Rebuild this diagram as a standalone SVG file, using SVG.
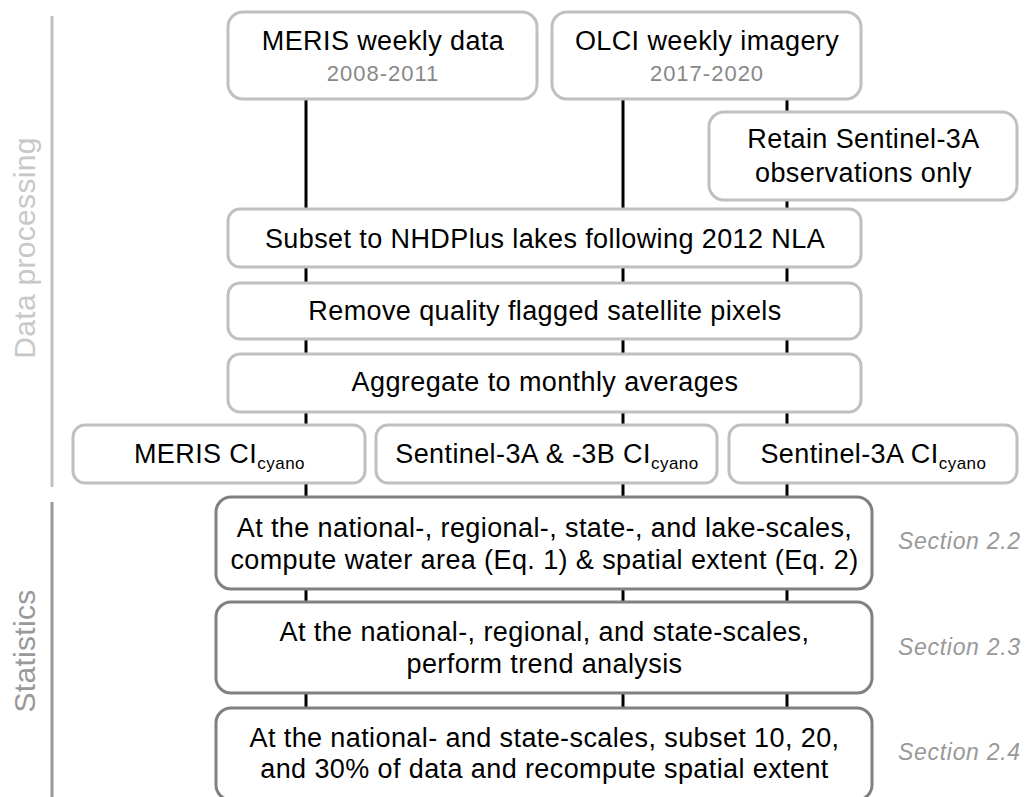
<svg xmlns="http://www.w3.org/2000/svg" width="1026" height="797" viewBox="0 0 1026 797">
<style>
.bx{fill:#fff;stroke:#c0c0c0;stroke-width:3}
.sb{fill:#fff;stroke:#808080;stroke-width:3}
.t{font-family:"Liberation Sans",Arial,sans-serif;font-size:27px;letter-spacing:0.4px;fill:#000;text-anchor:middle}
.yr{font-family:"Liberation Sans",Arial,sans-serif;font-size:22px;letter-spacing:1px;fill:#888;text-anchor:middle}
.sec{font-family:"Liberation Sans",Arial,sans-serif;font-size:23px;letter-spacing:0.7px;font-style:italic;fill:#999}
.side{font-family:"Liberation Sans",Arial,sans-serif;font-size:30px;letter-spacing:0.3px;text-anchor:middle}
.sub{font-size:17px;letter-spacing:0.5px}
.cn{stroke:#000;stroke-width:3;fill:none}
</style>
<rect width="1026" height="797" fill="#fff"/>
<g id="side">
<line x1="52" y1="16" x2="52" y2="487" stroke="#c0c0c0" stroke-width="3"/>
<line x1="52" y1="502" x2="52" y2="797" stroke="#999" stroke-width="3"/>
<text class="side" transform="translate(35,248) rotate(-90)" fill="#c8c8c8">Data processing</text>
<text class="side" transform="translate(35,651) rotate(-90)" fill="#999">Statistics</text>
</g>
<g id="connectors">
<line class="cn" x1="306" y1="99" x2="306" y2="797"/>
<line class="cn" x1="623" y1="99" x2="623" y2="797"/>
<line class="cn" x1="787" y1="99" x2="787" y2="797"/>
</g>
<g id="meris">
<rect class="bx" x="228" y="12" width="309" height="87" rx="15"/>
<text class="t" x="383" y="50">MERIS weekly data</text>
<text class="yr" x="383" y="81">2008-2011</text>
</g>
<g id="olci">
<rect class="bx" x="552" y="12" width="309" height="87" rx="15"/>
<text class="t" x="707" y="50">OLCI weekly imagery</text>
<text class="yr" x="707" y="81">2017-2020</text>
</g>
<g id="retain">
<rect class="bx" x="709" y="112" width="308" height="88" rx="15"/>
<text class="t" x="863.5" y="148">Retain Sentinel-3A</text>
<text class="t" x="863.5" y="182">observations only</text>
</g>
<g id="subset">
<rect class="bx" x="228" y="209" width="633" height="58" rx="12"/>
<text class="t" x="545" y="248">Subset to NHDPlus lakes following 2012 NLA</text>
</g>
<g id="remove">
<rect class="bx" x="228" y="283" width="633" height="56" rx="12"/>
<text class="t" x="545" y="320">Remove quality flagged satellite pixels</text>
</g>
<g id="aggregate">
<rect class="bx" x="228" y="354" width="633" height="58" rx="12"/>
<text class="t" x="545" y="391">Aggregate to monthly averages</text>
</g>
<g id="meris-ci">
<rect class="bx" x="73" y="425" width="292" height="58" rx="12"/>
<text class="t" x="219.5" y="463">MERIS CI<tspan class="sub" dy="6">cyano</tspan></text>
</g>
<g id="s3ab-ci">
<rect class="bx" x="376" y="425" width="341" height="58" rx="12"/>
<text class="t" x="547" y="463">Sentinel-3A &amp; -3B CI<tspan class="sub" dy="6">cyano</tspan></text>
</g>
<g id="s3a-ci">
<rect class="bx" x="729" y="425" width="288" height="58" rx="12"/>
<text class="t" x="873.5" y="463">Sentinel-3A CI<tspan class="sub" dy="6">cyano</tspan></text>
</g>
<g id="stat1">
<rect class="sb" x="216" y="497" width="656" height="92" rx="15"/>
<text class="t" x="544.5" y="537">At the national-, regional-, state-, and lake-scales,</text>
<text class="t" x="544.5" y="569">compute water area (Eq. 1) &amp; spatial extent (Eq. 2)</text>
</g>
<g id="stat2">
<rect class="sb" x="216" y="602" width="656" height="91" rx="15"/>
<text class="t" x="544.5" y="641">At the national-, regional, and state-scales,</text>
<text class="t" x="544.5" y="673">perform trend analysis</text>
</g>
<g id="stat3">
<rect class="sb" x="216" y="708" width="656" height="92" rx="15"/>
<text class="t" x="544.5" y="747">At the national- and state-scales, subset 10, 20,</text>
<text class="t" x="544.5" y="778">and 30% of data and recompute spatial extent</text>
</g>
<g id="sections">
<text class="sec" x="898" y="549">Section 2.2</text>
<text class="sec" x="898" y="655">Section 2.3</text>
<text class="sec" x="898" y="760">Section 2.4</text>
</g>
</svg>
